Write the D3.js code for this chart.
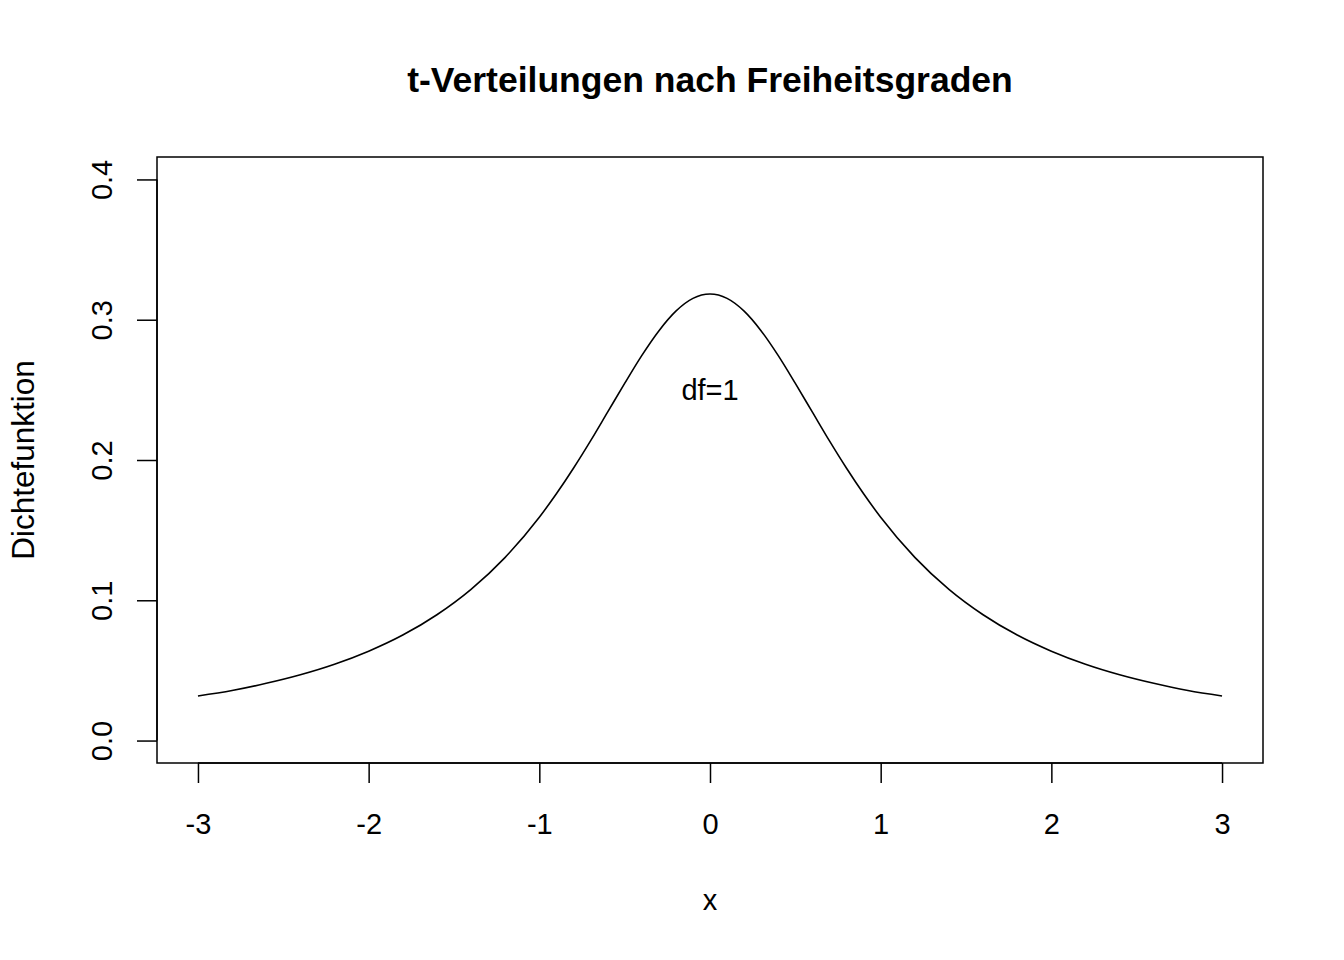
<!DOCTYPE html>
<html><head><meta charset="utf-8">
<script src="https://cdn.jsdelivr.net/npm/d3@7"></script>
<style>body{margin:0;background:#fff}text{font-family:"Liberation Sans",Arial,Helvetica,sans-serif}</style>
</head><body>
<svg id="c" width="1344" height="960"></svg>
<script>
const title = "t-Verteilungen nach Freiheitsgraden";
const xLabel = "x";
const yLabel = "Dichtefunktion";
const xTicks = [-3, -2, -1, 0, 1, 2, 3];
const xTickLabels = ["-3", "-2", "-1", "0", "1", "2", "3"];
const yTicks = [0.0, 0.1, 0.2, 0.3, 0.4];
const yTickLabels = ["0.0", "0.1", "0.2", "0.3", "0.4"];
const xs = [-3.0,-2.8,-2.6,-2.4,-2.2,-2.0,-1.8,-1.6,-1.4,-1.2,-1.0,-0.9,-0.8,-0.7,-0.6,-0.5,-0.4,-0.3,-0.2,-0.1,0.0,0.1,0.2,0.3,0.4,0.5,0.6,0.7,0.8,0.9,1.0,1.2,1.4,1.6,1.8,2.0,2.2,2.4,2.6,2.8,3.0];
const ys = [0.0318,0.0357,0.0408,0.0469,0.0544,0.0637,0.0752,0.0897,0.1078,0.1306,0.1592,0.1759,0.1941,0.2136,0.2341,0.2546,0.2744,0.2920,0.3061,0.3152,0.3183,0.3152,0.3061,0.2920,0.2744,0.2546,0.2341,0.2136,0.1941,0.1759,0.1592,0.1306,0.1078,0.0897,0.0752,0.0637,0.0544,0.0469,0.0408,0.0357,0.0318];
const annotation = {x: 0, y: 0.25, label: "df=1"};

const svg = d3.select("#c");
const L = 157, R = 1263, T = 157, B = 763;
const x = d3.scaleLinear().domain([-3.24, 3.24]).range([L, R]);
const y = d3.scaleLinear().domain([-0.016, 0.416]).range([B, T]);
const FS = 29;

// box
svg.append("rect").attr("x", L).attr("y", T).attr("width", R - L).attr("height", B - T)
  .attr("fill", "none").attr("stroke", "#000").attr("stroke-width", 1.5);

// x axis
const gx = svg.append("g").attr("transform", `translate(0,${B})`)
  .call(d3.axisBottom(x).tickValues(xTicks).tickFormat((d, i) => xTickLabels[i]).tickSize(20).tickPadding(30).tickSizeOuter(0));
gx.select(".domain").attr("d", `M${x(-3)},0H${x(3)}`).attr("stroke-width", 1.5);
gx.selectAll(".tick line").attr("stroke-width", 1.5);
gx.selectAll(".tick text").attr("font-size", FS).attr("font-family", '"Liberation Sans",Arial,sans-serif').attr("fill", "#000");

// y axis
const gy = svg.append("g").attr("transform", `translate(${L},0)`)
  .call(d3.axisLeft(y).tickValues(yTicks).tickFormat((d, i) => yTickLabels[i]).tickSize(20).tickSizeOuter(0));
gy.select(".domain").attr("d", `M0,${y(0)}V${y(0.4)}`).attr("stroke-width", 1.5);
gy.selectAll(".tick line").attr("stroke-width", 1.5);
gy.selectAll(".tick text")
  .attr("font-size", FS).attr("font-family", '"Liberation Sans",Arial,sans-serif').attr("fill", "#000")
  .attr("x", null).attr("dy", null)
  .attr("text-anchor", "middle")
  .attr("transform", "translate(-45,0) rotate(-90)");

// curve
svg.append("path").datum(xs.map((v, i) => [v, ys[i]]))
  .attr("fill", "none").attr("stroke", "#000").attr("stroke-width", 1.6)
  .attr("d", d3.line().x(d => x(d[0])).y(d => y(d[1])).curve(d3.curveMonotoneX));

// annotation
svg.append("text").attr("x", x(annotation.x)).attr("y", y(annotation.y)).attr("dy", "0.35em")
  .attr("text-anchor", "middle").attr("font-size", FS).text(annotation.label);

// title
svg.append("text").attr("x", (L + R) / 2).attr("y", 92).attr("text-anchor", "middle")
  .attr("font-size", 35.5).attr("font-weight", "bold").text(title);

// axis labels
svg.append("text").attr("x", (L + R) / 2).attr("y", 910).attr("text-anchor", "middle")
  .attr("font-size", FS).text(xLabel);
svg.append("text").attr("transform", `translate(34,${(T + B) / 2}) rotate(-90)`)
  .attr("text-anchor", "middle").attr("font-size", 31.5).text(yLabel);
</script>
</body></html>
